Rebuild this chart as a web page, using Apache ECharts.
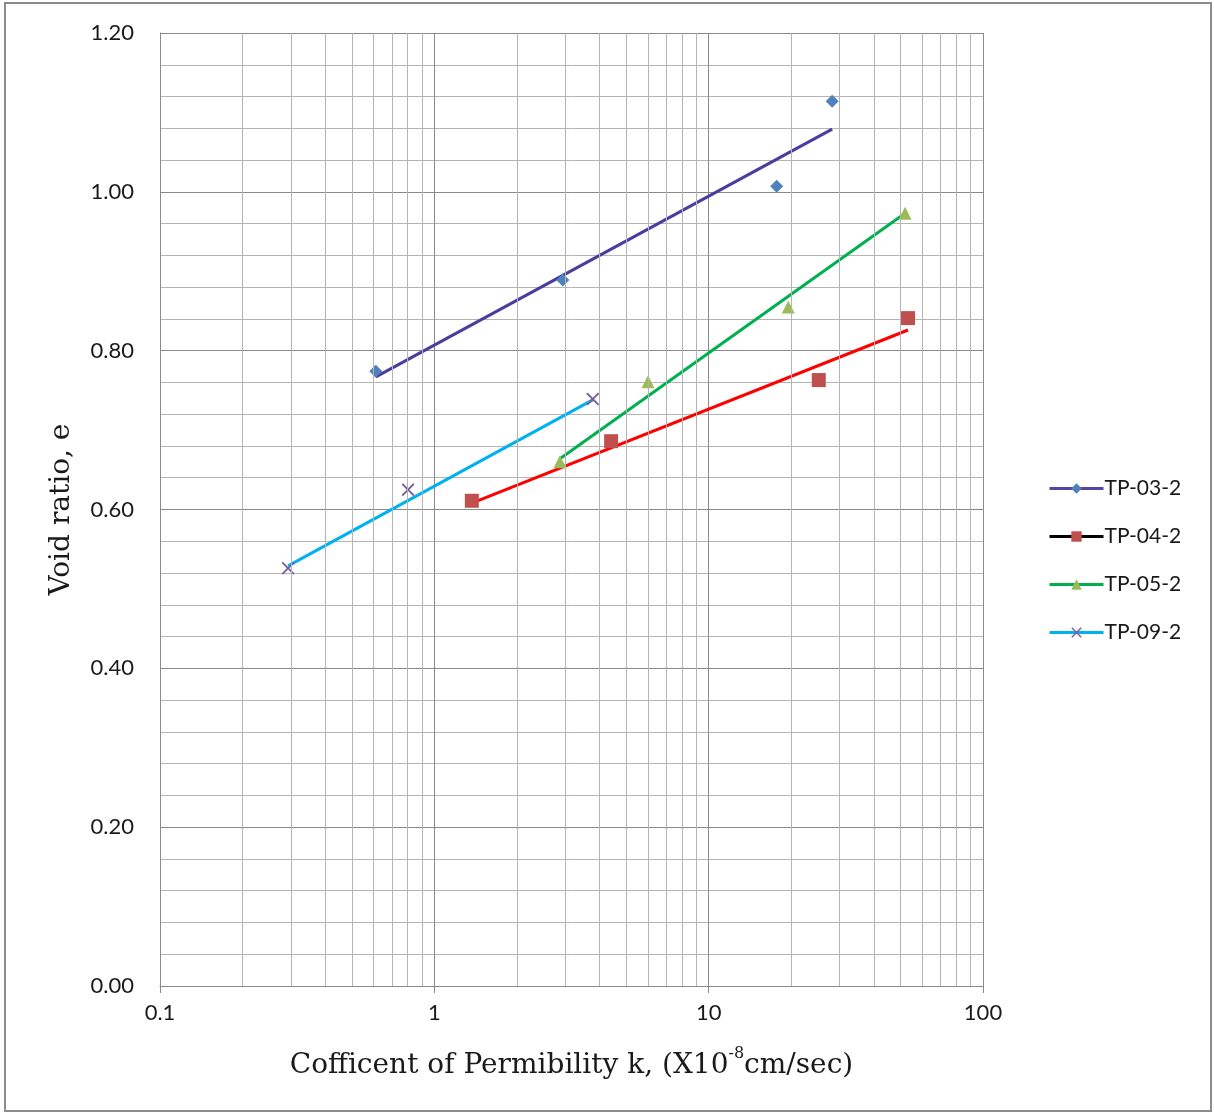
<!DOCTYPE html>
<html>
<head>
<meta charset="utf-8">
<script src="https://cdn.jsdelivr.net/npm/echarts@6/dist/echarts.min.js"></script>
<style>
html,body{margin:0;padding:0;background:#fff;}
#chart{width:1214px;height:1113px;}
</style>
</head>
<body>
<div id="chart"></div>
<script>
// ---- data ----
var seriesNames = ['TP-03-2', 'TP-04-2', 'TP-05-2', 'TP-09-2'];

var tp03_k = [0.612, 2.94, 17.7, 28.2];
var tp03_e = [0.774, 0.889, 1.007, 1.114];
var tp04_k = [1.37, 4.41, 25.2, 53.3];
var tp04_e = [0.611, 0.686, 0.763, 0.841];
var tp05_k = [2.87, 6.01, 19.5, 52.0];
var tp05_e = [0.660, 0.761, 0.855, 0.973];
var tp09_k = [0.293, 0.802, 3.78];
var tp09_e = [0.526, 0.625, 0.739];

// trend line end points
var tr03_k = [0.612, 28.2];
var tr03_e = [0.767, 1.079];
var tr04_k = [1.37, 53.3];
var tr04_e = [0.608, 0.826];
var tr05_k = [2.87, 52.0];
var tr05_e = [0.664, 0.973];
var tr09_k = [0.293, 3.78];
var tr09_e = [0.529, 0.738];

// axis ticks
var xMajorTicks = [0.1, 1, 10, 100];
var xMinorTicks = [0.2,0.3,0.4,0.5,0.6,0.7,0.8,0.9,2,3,4,5,6,7,8,9,20,30,40,50,60,70,80,90];
var yMin = 0, yMax = 1.2, yStep = 0.2;

function pairs(xs, ys){ return xs.map(function(x,i){ return [x, ys[i]]; }); }

var crossPath = 'path://M0,1 L1,0 L5,4 L9,0 L10,1 L6,5 L10,9 L9,10 L5,6 L1,10 L0,9 L4,5 Z';

var markerColors = ['#4F81BD', '#C0504D', '#9BBB59', '#7A5F9E'];
var trendColors = ['#4B3C9E', '#FF0000', '#00B050', '#00B0F0'];
var legendLineColors = ['#5545A8', '#000000', '#00B050', '#00B0F0'];
var symbols = ['diamond', 'rect', 'triangle', crossPath];
var symbolSizes = [13, 14, 13, 13];

var pts = [pairs(tp03_k,tp03_e), pairs(tp04_k,tp04_e), pairs(tp05_k,tp05_e), pairs(tp09_k,tp09_e)];
var trs = [pairs(tr03_k,tr03_e), pairs(tr04_k,tr04_e), pairs(tr05_k,tr05_e), pairs(tr09_k,tr09_e)];

var series = [];
// trend lines first (drawn below markers)
for (var i=0;i<4;i++){
  var s = {
    name: seriesNames[i] + ' trend',
    type: 'line',
    data: trs[i],
    symbol: 'none',
    silent: true,
    z: 3,
    lineStyle: { color: trendColors[i], width: 3 },
    animation: false
  };
  if (i === 0) {
    s.markLine = {
      silent: true,
      symbol: ['none','none'],
      label: { show: false },
      lineStyle: { color: '#b4b4b4', width: 1, type: 'solid' },
      data: xMinorTicks.map(function(v){ return { xAxis: v }; }),
      animation: false
    };
  }
  series.push(s);
}
for (var j=0;j<4;j++){
  series.push({
    name: seriesNames[j],
    type: 'line',
    data: pts[j],
    symbol: symbols[j],
    symbolSize: symbolSizes[j],
    z: 4,
    itemStyle: { color: markerColors[j] },
    lineStyle: { color: legendLineColors[j], width: 3, opacity: 0 },
    animation: false
  });
}

var chart = echarts.init(document.getElementById('chart'), null, {renderer: 'canvas'});
chart.setOption({
  backgroundColor: '#ffffff',
  animation: false,
  graphic: [{
    type: 'rect',
    shape: { x: 5, y: 3, width: 1206, height: 1108 },
    style: { fill: 'none', stroke: '#8c8c8c', lineWidth: 2 },
    silent: true,
    z: -10
  }],
  grid: { left: 160, right: 231, top: 33, bottom: 127, containLabel: false },
  legend: {
    orient: 'vertical',
    left: 1043,
    top: 473,
    itemWidth: 54,
    itemHeight: 13,
    itemGap: 27,
    textStyle: { fontFamily: 'Lato', fontSize: 21, color: '#1a1a1a', padding: [0,0,0,-4] },
    data: seriesNames.map(function(n, k){
      return { name: n, lineStyle: { color: legendLineColors[k], width: 3, opacity: 1 } };
    })
  },
  xAxis: {
    type: 'log',
    logBase: 10,
    min: xMajorTicks[0],
    max: xMajorTicks[xMajorTicks.length-1],
    name: '{a|Cofficent of Permibility k, (X10}{s|-8}{a|cm/sec)}',
    nameLocation: 'middle',
    nameGap: 60,
    nameTextStyle: {
      verticalAlign: 'top',
      rich: {
        a: { fontFamily: 'DejaVu Serif', fontSize: 28, color: '#1a1a1a', verticalAlign: 'bottom', lineHeight: 34 },
        s: { fontFamily: 'DejaVu Serif', fontSize: 16, color: '#1a1a1a', verticalAlign: 'top', padding: [0,0,14,0], lineHeight: 34 }
      }
    },
    axisLine: { show: true, lineStyle: { color: '#8a8a8a', width: 1 } },
    axisTick: { show: true, length: 7, lineStyle: { color: '#8a8a8a' } },
    axisLabel: { fontFamily: 'Lato', fontSize: 22, color: '#1a1a1a', margin: 16,
      formatter: function(v){ return String(v); } },
    splitLine: { show: true, lineStyle: { color: '#8a8a8a', width: 1 } },
    minorTick: { show: false },
    minorSplitLine: { show: false }
  },
  yAxis: {
    type: 'value',
    min: yMin,
    max: yMax,
    interval: yStep,
    name: 'Void ratio, e',
    nameLocation: 'middle',
    nameGap: 84,
    nameTextStyle: { fontFamily: 'DejaVu Serif', fontSize: 28, color: '#1a1a1a' },
    axisLine: { show: true, lineStyle: { color: '#8a8a8a', width: 1 } },
    axisTick: { show: false },
    axisLabel: { fontFamily: 'Lato', fontSize: 22, color: '#1a1a1a', margin: 26,
      formatter: function(v){ return v.toFixed(2); } },
    splitLine: { show: true, lineStyle: { color: '#8a8a8a', width: 1 } },
    minorTick: { show: false, splitNumber: 5 },
    minorSplitLine: { show: true, lineStyle: { color: '#b4b4b4', width: 1 } }
  },
  series: series
});
</script>
</body>
</html>
